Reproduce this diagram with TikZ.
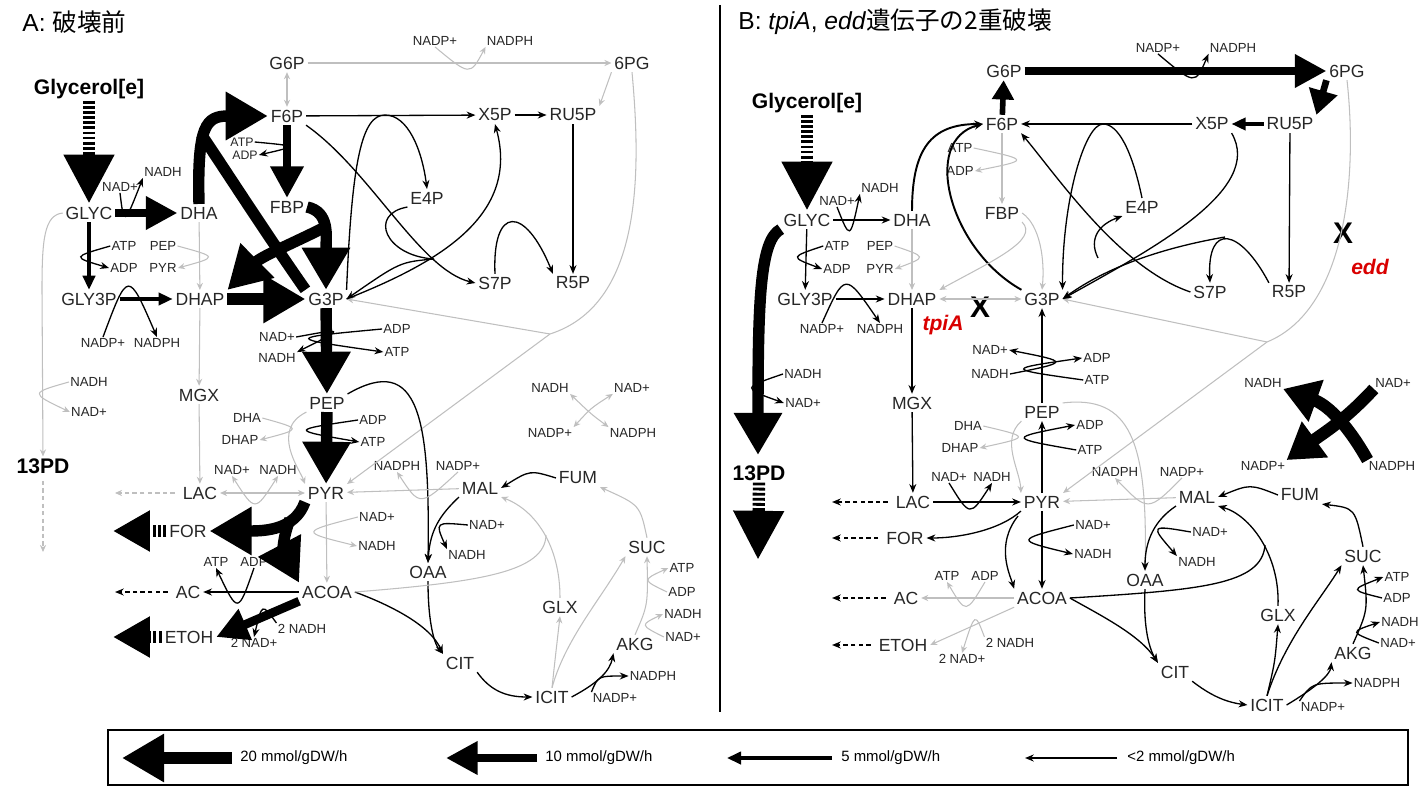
\documentclass[tikz,border=0pt]{standalone}
\usepackage{fontspec}
\setmainfont{Liberation Sans}
\newfontfamily\jp{Noto Sans CJK JP}
\usetikzlibrary{arrows.meta}
\tikzset{
  met/.style={font=\fontsize{10}{12}\selectfont, inner sep=1.5pt, text=black!85},
  cof/.style={font=\fontsize{7.5}{9}\selectfont, inner sep=0.6pt, text=black!85},
  cofs/.style={font=\fontsize{7}{8}\selectfont, inner sep=0.5pt, text=black!85},
  src/.style={font=\bfseries\fontsize{12}{14}\selectfont, inner sep=1pt},
  ttl/.style={font=\fontsize{14}{16}\selectfont, anchor=west, inner sep=0pt},
  ko/.style={font=\bfseries\itshape\fontsize{12}{14}\selectfont, text=red!85!black, inner sep=0pt},
  cut/.style={font=\bfseries\fontsize{17}{18}\selectfont, inner sep=0pt},
  leg/.style={font=\fontsize{8.5}{10}\selectfont, anchor=west, inner sep=0pt},
  sm/.style={line width=0.75pt, -{Stealth[length=5pt,width=4pt]}},
  gr/.style={draw=black!25, line width=0.6pt, -{Stealth[length=4pt,width=3.5pt]}},
  grb/.style={gr, {Stealth[length=4pt,width=3.5pt]}-{Stealth[length=4pt,width=3.5pt]}},
  fv/.style={line width=1.8pt, -{Triangle[length=8pt,width=7pt]}},
  sx/.style={line width=3.2pt, -{Triangle[length=11pt,width=12pt]}},
  sxb/.style={line width=3.8pt, -{Triangle[length=14pt,width=16pt]}},
  mh/.style={line width=5pt, -{Triangle[length=18pt,width=18pt]}},
  hv/.style={line width=6.5pt, -{Triangle[length=24pt,width=26pt]}},
  hvb/.style={line width=7pt, -{Triangle[length=20pt,width=24pt]}},
  band/.style={line width=6.5pt},
  feed/.style={line width=7pt, dash pattern=on 1.6pt off 1.3pt, -{Triangle[length=28pt,width=27pt]}},
  leak/.style={line width=7pt, dash pattern=on 1.7pt off 1.4pt, -{Triangle[length=21pt,width=22pt]}},
  drain/.style={sm, dash pattern=on 2.5pt off 1.8pt, shorten <=3pt},
  grdrain/.style={gr, dash pattern=on 2.5pt off 1.8pt, shorten <=3pt},
}
\begin{document}
\begin{tikzpicture}[x=0.02cm,y=-0.02cm]
\useasboundingbox (0,0) rectangle (1423,787);

% ---------------- panel A ----------------
\node[ttl] (atitle) at (22,22) {A: {\jp 破壊前}};
\node[src] (aGlyc) at (89,89) {Glycerol[e]};
\node[src] (a13PD) at (43,466) {13PD};
\node[met] (aG6P) at (287,63) {G6P};
\node[met] (a6PG) at (632,63) {6PG};
\node[met] (aF6P) at (287,116) {F6P};
\node[met] (aX5P) at (495,115) {X5P};
\node[met] (aRU5P) at (573,115) {RU5P};
\node[met] (aGLYC) at (89,213) {GLYC};
\node[met] (aDHA) at (199,213) {DHA};
\node[met] (aFBP) at (287,207) {FBP};
\node[met] (aE4P) at (427,198) {E4P};
\node[met] (aGLY3P) at (89,299) {GLY3P};
\node[met] (aDHAP) at (200,299) {DHAP};
\node[met] (aG3P) at (326,299) {G3P};
\node[met] (aS7P) at (495,283) {S7P};
\node[met] (aR5P) at (573,283) {R5P};
\node[met] (aMGX) at (199,395) {MGX};
\node[met] (aPEP) at (327,403) {PEP};
\node[met] (aLAC) at (200,493) {LAC};
\node[met] (aPYR) at (326,493) {PYR};
\node[met] (aMAL) at (480,488) {MAL};
\node[met] (aFUM) at (578,478) {FUM};
\node[met] (aFOR) at (188,531) {FOR};
\node[met] (aOAA) at (428,572) {OAA};
\node[met] (aSUC) at (647,547) {SUC};
\node[met] (aAC) at (188,592) {AC};
\node[met] (aACOA) at (327,592) {ACOA};
\node[met] (aGLX) at (560,607) {GLX};
\node[met] (aAKG) at (635,644) {AKG};
\node[met] (aETOH) at (189,637) {ETOH};
\node[met] (aCIT) at (460,663) {CIT};
\node[met] (aICIT) at (552,697) {ICIT};

\node[cof] (aNADPa) at (435,41) {NADP+};
\node[cof] (aNADPHa) at (510,41) {NADPH};
\node[cofs] (aATPa) at (242,142) {ATP};
\node[cofs] (aADPa) at (245,155) {ADP};
\node[cof] (aNADHa) at (163,172) {NADH};
\node[cof] (aNADa) at (120,187) {NAD+};
\node[cof] (aATPb) at (124,246) {ATP};
\node[cof] (aPEPb) at (163,246) {PEP};
\node[cof] (aADPb) at (124,268) {ADP};
\node[cof] (aPYRb) at (163,268) {PYR};
\node[cof] (aNADPb) at (103,343) {NADP+};
\node[cof] (aNADPHb) at (157,343) {NADPH};
\node[cof] (aNADc) at (277,337) {NAD+};
\node[cof] (aNADHc) at (277,358) {NADH};
\node[cof] (aADPc) at (397,329) {ADP};
\node[cof] (aATPc) at (397,352) {ATP};
\node[cof] (aNADHd) at (89,382) {NADH};
\node[cof] (aNADd) at (89,412) {NAD+};
\node[cof] (aDHAe) at (247,418) {DHA};
\node[cof] (aDHAPe) at (240,440) {DHAP};
\node[cof] (aADPe) at (373,420) {ADP};
\node[cof] (aATPe) at (373,442) {ATP};
\node[cof] (aNADf) at (232,470) {NAD+};
\node[cof] (aNADHf) at (278,470) {NADH};
\node[cof] (aNADPHg) at (397,466) {NADPH};
\node[cof] (aNADPg) at (458,466) {NADP+};
\node[cof] (aNADh) at (377,517) {NAD+};
\node[cof] (aNADHh) at (377,546) {NADH};
\node[cof] (aNADi) at (487,525) {NAD+};
\node[cof] (aNADHi) at (467,555) {NADH};
\node[cof] (aATPj) at (216,562) {ATP};
\node[cof] (aADPj) at (254,562) {ADP};
\node[cof] (aNADHk) at (302,629) {2 NADH};
\node[cof] (aNADk) at (254,643) {2 NAD+};
\node[cof] (aATPl) at (682,568) {ATP};
\node[cof] (aADPl) at (682,592) {ADP};
\node[cof] (aNADHl) at (683,614) {NADH};
\node[cof] (aNADl) at (683,637) {NAD+};
\node[cof] (aNADPHm) at (653,676) {NADPH};
\node[cof] (aNADPm) at (615,698) {NADP+};
\node[cof] (aNADHn) at (550,388) {NADH};
\node[cof] (aNADn) at (632,388) {NAD+};
\node[cof] (aNADPn) at (550,433) {NADP+};
\node[cof] (aNADPHn) at (633,433) {NADPH};

\coordinate (afsa) at (201,134);
\coordinate (aald) at (323,228);
\coordinate (apfl) at (290,519);
\coordinate (atkl) at (385,115);
\coordinate (ata) at (434,259);
\coordinate (aKDPG) at (550,334);
\coordinate (amas) at (546,535);
\coordinate (aFORx) at (113,531);
\coordinate (aETOHx) at (113,637);
\coordinate (aACx) at (115,592);
\coordinate (aLACx) at (115,493);
\coordinate (a13PDx) at (43,552);

% glycerol uptake and upper part
\draw[feed] (aGlyc.south) -- (aGLYC.north);
\draw[mh] (aGLYC) -- (aDHA);
\draw[sm] (aNADa.south) .. controls (124,226) .. (aNADHa.south west);
\draw[fv] (aGLYC) -- (aGLY3P);
\draw[sm] (aATPb.west) .. controls (72,257) .. (aADPb.west);
\draw[gr] (aPEPb.east) .. controls (218,257) .. (aPYRb.east);
\draw[gr] (aDHA) -- (aDHAP);
\draw[fv] (aGLY3P) -- (aDHAP);
\draw[sm] (aNADPb.north) .. controls (128,270) .. (aNADPHb.north);
\draw[hv] (aDHAP) -- (aG3P);
\draw[hv] (aDHA.north) .. controls (197,125) and (206,116) .. (aF6P.west);
\draw[band] (aG3P.north west) .. controls (265,232) and (222,165) .. (afsa);
\draw[mh] (aF6P) -- (aFBP);
\draw[sm] (aATPa.east) .. controls (298,146) .. (aADPa.east);
\draw[hv] (aFBP.east) .. controls (330,212) and (326,236) .. (aG3P.north);
\draw[hv] (aald) .. controls (300,240) and (262,256) .. (aDHAP.north east);
\draw[gr] (aGLYC.west) .. controls (44,215) and (42,240) .. (42,290) -- (a13PD.north);
\draw[gr] (aNADHd.west) .. controls (30,393) .. (aNADd.west);
\draw[grdrain] (a13PD.south) -- (a13PDx);

% oxidative PP and ED
\draw[gr] (aG6P) -- (a6PG);
\draw[gr] (aNADPa.south) .. controls (470,76) .. (aNADPHa.south west);
\draw[grb] (aF6P) -- (aG6P);
\draw[gr] (a6PG.south west) -- (aRU5P.north east);
\draw[gr,-] (a6PG.south) .. controls (642,180) and (640,305) .. (aKDPG);
\draw[gr] (aKDPG) -- (aG3P.east);
\draw[gr] (aKDPG) -- (aPYR.north east);

% non-oxidative PP
\draw[sm] (aF6P) -- (aX5P);
\draw[sm] (aX5P) -- (aRU5P);
\draw[sm] (aRU5P) -- (aR5P);
\draw[sm] (aG3P.north east) .. controls (352,160) and (362,115) .. (atkl) .. controls (408,115) and (422,150) .. (aE4P.north);
\draw[sm] (aF6P.south east) .. controls (370,170) and (420,270) .. (aS7P.west);
\draw[sm,-] (aE4P.south west) .. controls (368,214) and (385,256) .. (ata);
\draw[sm] (ata) .. controls (400,262) .. (aG3P.east);
\draw[sm] (aG3P.east) .. controls (440,262) and (520,215) .. (aX5P.south);
\draw[sm] (aS7P.north) .. controls (492,205) and (525,205) .. (aR5P.north west);

% lower glycolysis
\draw[hv] (aG3P) -- (aPEP);
\draw[sm] (aNADc.east) .. controls (345,328) .. (aNADHc.north east);
\draw[sm] (aADPc.west) .. controls (285,338) .. (aATPc.west);
\draw[hv] (aPEP) -- (aPYR);
\draw[sm] (aADPe.west) .. controls (290,430) .. (aATPe.west);
\draw[gr] (aPEP.south west) .. controls (270,430) and (300,470) .. (aPYR.north west);
\draw[gr] (aDHAe.east) .. controls (302,429) .. (aDHAPe.east);
\draw[gr] (aDHAP) -- (aMGX);
\draw[gr] (aMGX) -- (aLAC);
\draw[grb] (aLAC) -- (aPYR);
\draw[grb] (aNADf.south) .. controls (255,512) .. (aNADHf.south);
\draw[grdrain] (aLAC.west) -- (aLACx);

% fermentation
\draw[hv] (aPYR.south west) .. controls (295,530) and (265,531) .. (aFOR.east);
\draw[hv] (apfl) .. controls (280,545) and (285,556) .. (aACOA.north west);
\draw[leak] (aFOR.west) -- (aFORx);
\draw[gr] (aPYR) -- (aACOA);
\draw[gr] (aNADh.west) .. controls (300,532) .. (aNADHh.west);
\draw[sm] (aACOA) -- (aAC);
\draw[sm] (aADPj.south) .. controls (238,614) .. (aATPj.south);
\draw[drain] (aAC.west) -- (aACx);
\draw[mh] (aACOA.south west) -- (aETOH.east);
\draw[sm] (aNADHk.north west) .. controls (262,603) .. (aNADk.north);
\draw[leak] (aETOH.west) -- (aETOHx);

% TCA and glyoxylate shunt
\draw[sm] (aPEP.north east) .. controls (420,352) and (430,420) .. (aOAA.north);
\draw[gr] (aMAL) -- (aPYR);
\draw[gr] (aNADPg.south) .. controls (420,507) .. (aNADPHg.south);
\draw[sm] (aFUM.west) .. controls (530,470) .. (aMAL.east);
\draw[sm] (aMAL.south west) .. controls (440,515) and (430,530) .. (aOAA.north);
\draw[sm] (aNADi.west) .. controls (435,522) .. (aNADHi.north west);
\draw[sm] (aOAA.south) .. controls (428,625) and (435,645) .. (aCIT.north west);
\draw[sm] (aACOA.east) .. controls (390,605) and (430,625) .. (aCIT.north west);
\draw[sm] (aCIT.south east) .. controls (490,690) and (505,697) .. (aICIT.west);
\draw[sm] (aICIT.east) .. controls (600,682) and (610,670) .. (aAKG.south west);
\draw[sm] (aNADPm.north west) .. controls (598,676) .. (aNADPHm.west);
\draw[gr] (aICIT.north) .. controls (555,660) .. (aGLX.south);
\draw[gr] (aICIT.north) .. controls (565,640) and (600,600) .. (aSUC.south west);
\draw[gr] (aGLX.north) .. controls (560,545) and (535,510) .. (aMAL.south east);
\draw[gr,-] (aACOA.east) .. controls (480,582) and (545,572) .. (amas);
\draw[gr] (aAKG.north) .. controls (648,605) .. (aSUC.south);
\draw[gr] (aADPl.west) .. controls (642,580) .. (aATPl.west);
\draw[gr] (aNADl.west) .. controls (640,625) .. (aNADHl.west);
\draw[gr] (aSUC.north) .. controls (640,505) .. (aFUM.south east);
\draw[grb] (aNADHn.south east) .. controls (591,414) .. (aNADPHn.north west);
\draw[grb] (aNADPn.north east) .. controls (591,408) .. (aNADn.south west);

% ---------------- divider ----------------
\coordinate (sepT) at (720,5);
\coordinate (sepB) at (720,712);
\draw[line width=0.8pt] (sepT) -- (sepB);

% ---------------- panel B ----------------
\node[ttl] (btitle) at (738,22) {B: \textit{tpiA}, \textit{edd}{\jp 遺伝子の2重破壊}};
\node[src] (bGlyc) at (807,103) {Glycerol[e]};
\node[src] (b13PD) at (759,473) {13PD};
\node[met] (bG6P) at (1004,71) {G6P};
\node[met] (b6PG) at (1347,71) {6PG};
\node[met] (bF6P) at (1002,124) {F6P};
\node[met] (bX5P) at (1212,124) {X5P};
\node[met] (bRU5P) at (1290,124) {RU5P};
\node[met] (bGLYC) at (807,220) {GLYC};
\node[met] (bDHA) at (912,220) {DHA};
\node[met] (bFBP) at (1002,213) {FBP};
\node[met] (bE4P) at (1142,207) {E4P};
\node[met] (bGLY3P) at (805,299) {GLY3P};
\node[met] (bDHAP) at (912,299) {DHAP};
\node[met] (bG3P) at (1042,299) {G3P};
\node[met] (bS7P) at (1210,292) {S7P};
\node[met] (bR5P) at (1289,292) {R5P};
\node[met] (bMGX) at (912,403) {MGX};
\node[met] (bPEP) at (1042,412) {PEP};
\node[met] (bLAC) at (913,502) {LAC};
\node[met] (bPYR) at (1042,502) {PYR};
\node[met] (bMAL) at (1197,497) {MAL};
\node[met] (bFUM) at (1300,495) {FUM};
\node[met] (bFOR) at (905,538) {FOR};
\node[met] (bOAA) at (1145,580) {OAA};
\node[met] (bSUC) at (1363,556) {SUC};
\node[met] (bAC) at (906,598) {AC};
\node[met] (bACOA) at (1042,598) {ACOA};
\node[met] (bGLX) at (1278,615) {GLX};
\node[met] (bAKG) at (1353,653) {AKG};
\node[met] (bETOH) at (903,645) {ETOH};
\node[met] (bCIT) at (1175,672) {CIT};
\node[met] (bICIT) at (1267,705) {ICIT};

\node[cof] (bNADPa) at (1158,48) {NADP+};
\node[cof] (bNADPHa) at (1233,48) {NADPH};
\node[cof] (bATPa) at (960,148) {ATP};
\node[cof] (bADPa) at (960,171) {ADP};
\node[cof] (bNADHa) at (880,188) {NADH};
\node[cof] (bNADa) at (837,201) {NAD+};
\node[cof] (bATPb) at (837,246) {ATP};
\node[cof] (bPEPb) at (880,246) {PEP};
\node[cof] (bADPb) at (837,269) {ADP};
\node[cof] (bPYRb) at (880,269) {PYR};
\node[cof] (bNADPb) at (822,329) {NADP+};
\node[cof] (bNADPHb) at (880,329) {NADPH};
\node[cof] (bNADc) at (990,350) {NAD+};
\node[cof] (bNADHc) at (990,374) {NADH};
\node[cof] (bADPc) at (1097,358) {ADP};
\node[cof] (bATPc) at (1097,380) {ATP};
\node[cof] (bNADHd) at (803,374) {NADH};
\node[cof] (bNADd) at (803,403) {NAD+};
\node[cof] (bDHAe) at (968,426) {DHA};
\node[cof] (bDHAPe) at (960,448) {DHAP};
\node[cof] (bADPe) at (1090,425) {ADP};
\node[cof] (bATPe) at (1090,450) {ATP};
\node[cof] (bNADf) at (949,477) {NAD+};
\node[cof] (bNADHf) at (992,477) {NADH};
\node[cof] (bNADPHg) at (1115,472) {NADPH};
\node[cof] (bNADPg) at (1182,472) {NADP+};
\node[cof] (bNADh) at (1093,525) {NAD+};
\node[cof] (bNADHh) at (1093,554) {NADH};
\node[cof] (bNADi) at (1210,532) {NAD+};
\node[cof] (bNADHi) at (1197,562) {NADH};
\node[cof] (bATPj) at (947,576) {ATP};
\node[cof] (bADPj) at (985,576) {ADP};
\node[cof] (bNADHk) at (1010,643) {2 NADH};
\node[cof] (bNADk) at (962,659) {2 NAD+};
\node[cof] (bATPl) at (1397,577) {ATP};
\node[cof] (bADPl) at (1397,598) {ADP};
\node[cof] (bNADHl) at (1400,622) {NADH};
\node[cof] (bNADl) at (1398,643) {NAD+};
\node[cof] (bNADPHm) at (1377,683) {NADPH};
\node[cof] (bNADPm) at (1323,707) {NADP+};
\node[cof] (bNADHn) at (1263,383) {NADH};
\node[cof] (bNADn) at (1393,383) {NAD+};
\node[cof] (bNADPn) at (1263,466) {NADP+};
\node[cof] (bNADPHn) at (1392,466) {NADPH};

\node[ko] (btpi) at (943,325) {tpiA};
\node[ko] (bedd) at (1370,267) {edd};
\node[cut] (bXt) at (980,307) {X};
\node[cut] (bXe) at (1343,233) {X};

\coordinate (b13PDin) at (758,455);
\coordinate (b13PDx) at (758,560);
\coordinate (bpfl) at (1018,516);
\coordinate (btkl) at (1103,124);
\coordinate (bta) at (1098,258);
\coordinate (btk) at (1225,237);
\coordinate (bKDPG) at (1267,342);
\coordinate (bmas) at (1265,545);
\coordinate (bLACx) at (832,502);
\coordinate (bFORx) at (832,538);
\coordinate (bACx) at (832,598);
\coordinate (bETOHx) at (832,645);

% glycerol uptake and upper part
\draw[feed] (bGlyc.south) -- (bGLYC.north);
\draw[sm] (bGLYC) -- (bDHA);
\draw[sm] (bNADa.south) .. controls (850,240) .. (bNADHa.south west);
\draw[sm] (bGLYC) -- (bGLY3P);
\draw[sm] (bATPb.west) .. controls (790,257) .. (bADPb.west);
\draw[gr] (bPEPb.east) .. controls (927,257) .. (bPYRb.east);
\draw[gr] (bDHA) -- (bDHAP);
\draw[hv] (bGLYC.south west) .. controls (760,240) and (758,300) .. (b13PDin);
\draw[sm] (bNADHd.west) .. controls (742,388) .. (bNADd.west);
\draw[feed] (b13PD.south) -- (b13PDx);
\draw[sm] (bGLY3P) -- (bDHAP);
\draw[sm] (bNADPb.north) .. controls (845,272) .. (bNADPHb.north);
\draw[grb] (bDHAP) -- (bG3P);
\draw[sm,line width=1.1pt] (bDHA.north) .. controls (912,150) and (930,124) .. (bF6P.west);
\draw[sm,line width=1.1pt] (bG3P.north west) .. controls (950,250) and (920,140) .. (bF6P.west);

% oxidative PP and ED
\draw[sx] (bF6P) -- (bG6P);
\draw[mh] (bG6P) -- (b6PG);
\draw[sm] (bNADPa.south) .. controls (1195,85) .. (bNADPHa.south west);
\draw[sxb] (b6PG.south west) -- (bRU5P.north east);
\draw[gr,-] (b6PG.south) .. controls (1358,180) and (1345,310) .. (bKDPG);
\draw[gr] (bKDPG) -- (bG3P.east);
\draw[gr] (bKDPG) -- (bPYR.north east);

% non-oxidative PP
\draw[fv] (bRU5P) -- (bX5P);
\draw[sm] (bX5P) -- (bF6P);
\draw[sm] (bRU5P) -- (bR5P);
\draw[sm] (bE4P.north) .. controls (1132,150) and (1118,124) .. (btkl) .. controls (1085,124) and (1062,200) .. (bG3P.north east);
\draw[sm] (bX5P.south east) .. controls (1265,190) and (1150,250) .. (bG3P.east);
\draw[sm] (bS7P.west) .. controls (1120,268) and (1060,180) .. (bF6P.south east);
\draw[sm] (bta) .. controls (1088,238) and (1100,224) .. (bE4P.south west);
\draw[sm] (bR5P.north west) .. controls (1240,228) and (1207,222) .. (bS7P.north);
\draw[sm] (btk) .. controls (1150,250) and (1100,272) .. (bG3P.east);
\draw[gr] (bF6P) -- (bFBP);
\draw[gr] (bATPa.east) .. controls (1030,160) .. (bADPa.east);
\draw[gr] (bFBP.east) .. controls (1040,225) and (1045,260) .. (bG3P.north);
\draw[gr] (bFBP.south east) .. controls (1040,240) and (990,262) .. (bDHAP.north east);

% lower glycolysis
\draw[sm] (bPEP) -- (bG3P);
\draw[sm] (bNADHc.east) .. controls (1070,362) .. (bNADc.east);
\draw[sm] (bATPc.west) .. controls (1005,369) .. (bADPc.west);
\draw[sm] (bPYR) -- (bPEP);
\draw[sm] (bATPe.west) .. controls (1008,438) .. (bADPe.west);
\draw[gr] (bPEP.south west) .. controls (1000,440) and (1020,470) .. (bPYR.north west);
\draw[gr] (bDHAe.east) .. controls (1030,437) .. (bDHAPe.east);
\draw[sm] (bDHAP) -- (bMGX);
\draw[sm] (bMGX) -- (bLAC);
\draw[sm] (bLAC) -- (bPYR);
\draw[sm] (bNADf.south) .. controls (970,517) .. (bNADHf.south);
\draw[drain] (bLAC.west) -- (bLACx);

% fermentation
\draw[sm] (bPYR.south west) .. controls (1000,530) and (960,538) .. (bFOR.east);
\draw[sm] (bpfl) .. controls (995,545) and (1010,575) .. (bACOA.north west);
\draw[sm] (bPYR) -- (bACOA);
\draw[sm] (bNADh.west) .. controls (1015,540) .. (bNADHh.west);
\draw[drain] (bFOR.west) -- (bFORx);
\draw[gr] (bACOA) -- (bAC);
\draw[gr] (bADPj.south) .. controls (966,614) .. (bATPj.south);
\draw[drain] (bAC.west) -- (bACx);
\draw[gr] (bACOA.south west) -- (bETOH.east);
\draw[gr] (bNADHk.north west) .. controls (975,612) .. (bNADk.north);
\draw[drain] (bETOH.west) -- (bETOHx);

% TCA and glyoxylate shunt
\draw[gr] (bPEP.north east) .. controls (1130,395) and (1148,440) .. (bOAA.north);
\draw[gr] (bMAL) -- (bPYR);
\draw[gr] (bNADPg.south) .. controls (1148,512) .. (bNADPHg.south);
\draw[sm] (bFUM.west) .. controls (1250,484) .. (bMAL.east);
\draw[sm] (bMAL.south west) .. controls (1155,520) and (1145,540) .. (bOAA.north);
\draw[sm] (bNADi.west) .. controls (1150,525) .. (bNADHi.north west);
\draw[sm] (bOAA.south) .. controls (1143,630) and (1150,650) .. (bCIT.north west);
\draw[sm] (bACOA.east) .. controls (1100,615) and (1140,635) .. (bCIT.north west);
\draw[sm] (bCIT.south east) .. controls (1210,695) and (1225,702) .. (bICIT.west);
\draw[sm] (bICIT.north) .. controls (1275,662) .. (bGLX.south);
\draw[sm] (bICIT.north) .. controls (1285,640) and (1320,600) .. (bSUC.south west);
\draw[sm] (bGLX.north) .. controls (1280,555) and (1250,515) .. (bMAL.south east);
\draw[sm,-] (bACOA.east) .. controls (1200,590) and (1262,585) .. (bmas);
\draw[sm] (bICIT.east) .. controls (1315,688) and (1330,675) .. (bAKG.south west);
\draw[sm] (bNADPm.north west) .. controls (1312,683) .. (bNADPHm.west);
\draw[sm] (bAKG.north) .. controls (1368,610) .. (bSUC.south);
\draw[sm] (bADPl.west) .. controls (1350,590) .. (bATPl.west);
\draw[sm] (bNADl.west) .. controls (1350,632) .. (bNADHl.west);
\draw[sm] (bSUC.north) .. controls (1355,508) .. (bFUM.south east);
\draw[hvb] (bNADn.south west) .. controls (1345,420) and (1325,432) .. (bNADPn.north east);
\draw[hvb] (bNADPHn.north west) .. controls (1345,420) and (1325,404) .. (bNADHn.south east);

% ---------------- legend ----------------
\draw[line width=0.6pt] (108,730) rectangle (1408,785);
\coordinate (l20a) at (232,758);
\coordinate (l20b) at (122,758);
\coordinate (l10a) at (537,758);
\coordinate (l10b) at (446,758);
\coordinate (l5a) at (832,758);
\coordinate (l5b) at (727,758);
\coordinate (l2a) at (1117,758);
\coordinate (l2b) at (1025,758);
\draw[hv] (l20a) -- (l20b);
\draw[mh] (l10a) -- (l10b);
\draw[fv] (l5a) -- (l5b);
\draw[sm] (l2a) -- (l2b);
\node[leg] (t20) at (240,758) {20 mmol/gDW/h};
\node[leg] (t10) at (545,758) {10 mmol/gDW/h};
\node[leg] (t5) at (841,758) {5 mmol/gDW/h};
\node[leg] (t2) at (1127,758) {\textless2 mmol/gDW/h};
\end{tikzpicture}
\end{document}
